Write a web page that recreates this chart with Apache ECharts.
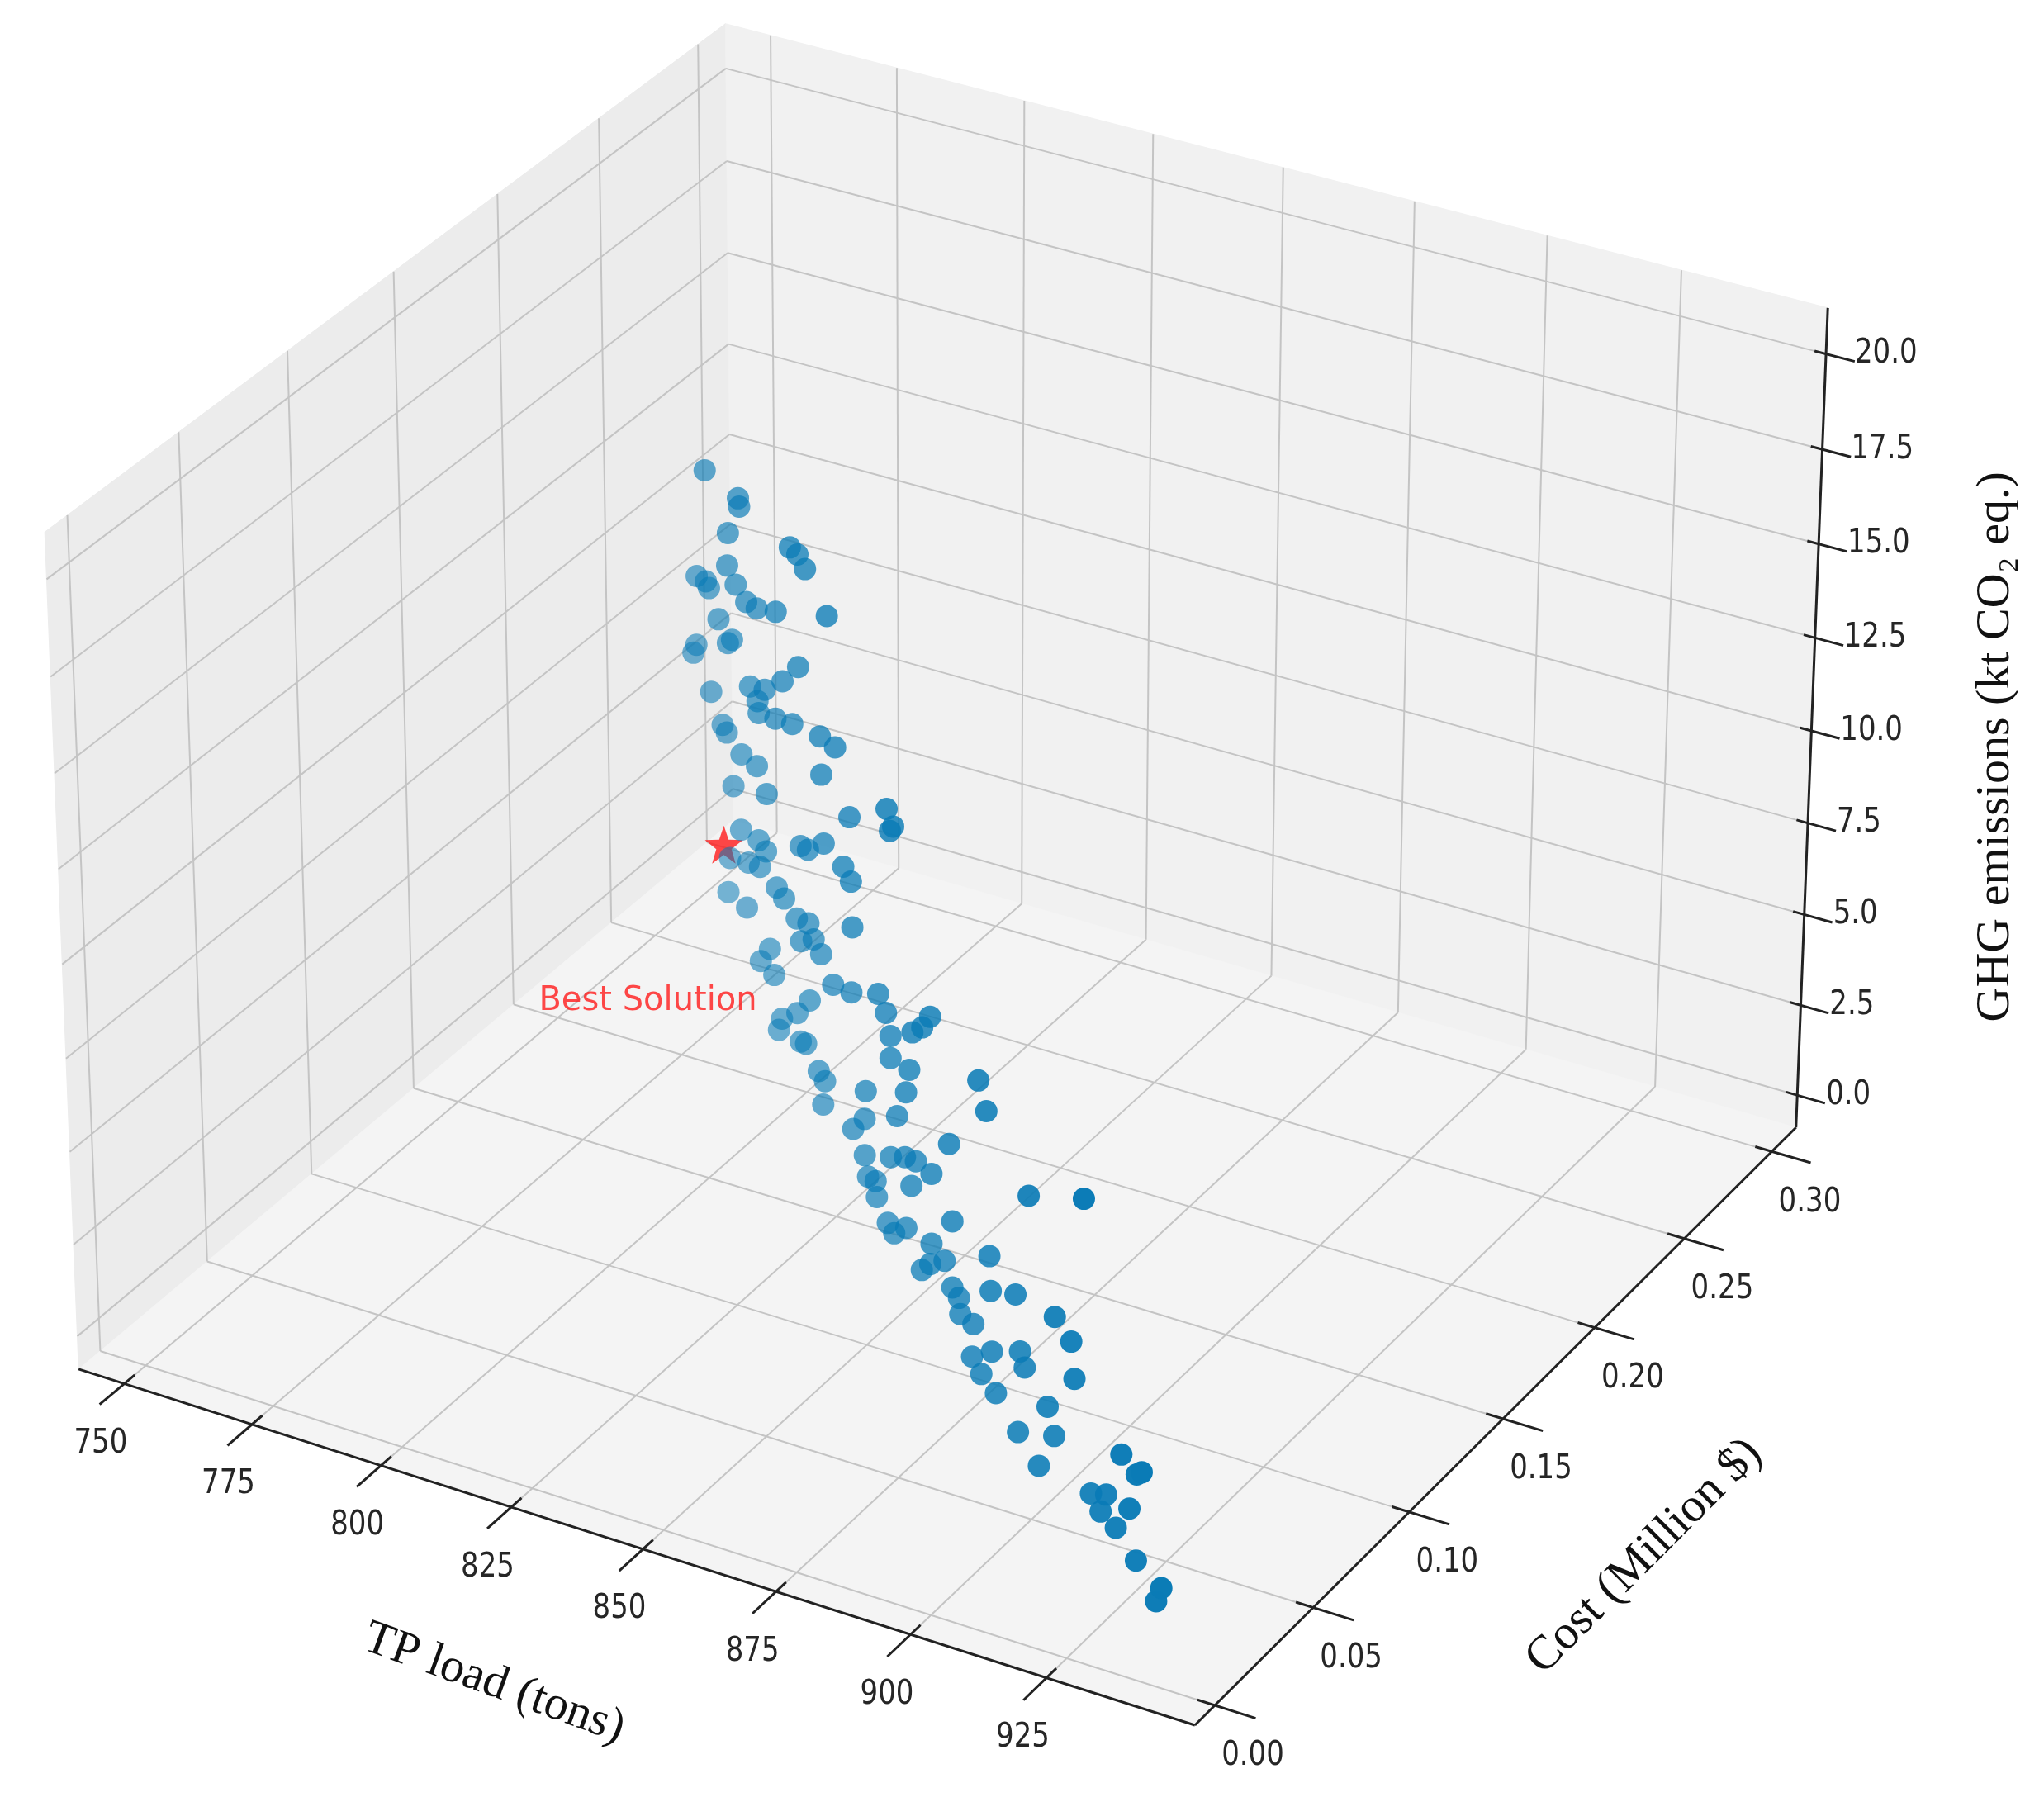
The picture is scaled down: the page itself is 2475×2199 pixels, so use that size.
<!DOCTYPE html>
<html><head><meta charset="utf-8">
<script src="https://cdn.jsdelivr.net/npm/echarts@6/dist/echarts.min.js"></script>
<style>html,body{margin:0;padding:0;background:#fff}#c{width:2475px;height:2199px}</style>
</head><body><div id="c"></div>
<script>
const tpLoad=[773,785,786,781,804,807,810,770,773,774,780,784,788,792,800,818,769,768,780,782,777,807,802,775,789,792,795,799,805,778,780,793,815,821,786,791,816,782,796,840,842,841,826,785,780,792,795,808,811,816,788,793,824,827,780,788,799,802,806,811,808,812,828,796,793,798,815,820,827,836,810,806,801,800,810,807,839,841,849,852,855,814,816,816,841,848,847,832,831,843,872,875,828,831,841,846,850,862,832,835,836,848,856,840,842,847,863,856,860,855,853,876,863,865,866,870,877,885,890,909,899,905,906,872,878,887,889,876,881,897,890,899,898,922,929,927,911,916,915,925,920,927,936,934];
const costM=[.220,.206,.204,.211,.183,.179,.175,.223,.220,.219,.213,.207,.202,.197,.186,.165,.225,.226,.213,.210,.216,.179,.184,.217,.201,.197,.193,.188,.181,.215,.212,.195,.169,.161,.204,.199,.167,.210,.191,.137,.135,.136,.155,.206,.213,.197,.193,.177,.173,.168,.202,.195,.157,.153,.212,.201,.188,.184,.180,.173,.177,.173,.151,.192,.195,.189,.169,.162,.153,.143,.176,.180,.185,.186,.174,.179,.139,.136,.126,.123,.119,.170,.168,.167,.136,.127,.128,.147,.149,.134,.098,.094,.151,.149,.136,.130,.125,.110,.148,.144,.142,.128,.117,.137,.135,.128,.109,.117,.113,.119,.120,.093,.109,.107,.105,.101,.091,.082,.075,.051,.064,.056,.055,.095,.089,.079,.076,.089,.083,.066,.070,.064,.059,.035,.026,.029,.050,.044,.044,.031,.038,.029,.017,.020];
const ghgKt=[14.2,14.5,14.4,13.2,14.9,15.0,14.9,11.1,11.2,11.1,12.2,12.1,12.0,12.2,12.9,14.4,9.1,8.8,10.1,10.4,10.5,12.0,11.2,8.4,9.8,9.7,10.3,9.9,10.3,7.7,7.7,9.5,10.9,11.2,7.7,7.8,10.0,6.4,7.6,11.4,11.1,10.9,9.8,5.5,4.2,5.9,5.9,7.3,7.5,8.1,4.9,5.3,8.3,8.2,3.3,3.7,5.3,5.3,5.1,5.5,4.7,5.1,7.1,3.3,2.7,2.8,5.0,4.7,5.2,6.0,3.2,2.5,1.9,1.5,2.1,1.8,5.8,5.4,6.3,6.7,7.3,1.7,1.6,1.0,4.8,5.2,4.5,3.0,2.1,3.4,7.3,6.8,1.6,1.1,2.1,2.6,2.9,4.6,0.6,0.8,0.5,2.0,3.2,0.2,0.1,0.8,2.6,1.3,1.2,0.6,0.3,3.0,0.8,0.7,0.4,0.5,2.2,2.9,6.1,8.0,3.8,3.8,2.9,0.0,0.7,1.6,1.4,0.0,0.0,1.2,0.0,0.6,0.0,2.6,2.9,2.6,0.3,0.8,0.3,1.5,0.4,0.3,0.6,0.0];
const bestSolution={tp:778,cost:0.215,ghg:4.4};
const xTicks=[750,775,800,825,850,875,900,925];
const yTicks=[0.00,0.05,0.10,0.15,0.20,0.25,0.30];
const zTicks=[0.0,2.5,5.0,7.5,10.0,12.5,15.0,17.5,20.0];

const W=2475,H=2199,K=2475/1560;
const X0=741,X1=952,Y0=-0.01,Y1=0.314,Z0=-0.9,Z1=21.2;
const el=30*Math.PI/180,az=-60*Math.PI/180,dist=10;
const nV=[Math.cos(el)*Math.cos(az),Math.cos(el)*Math.sin(az),Math.sin(el)];
const Rc=[0.5,0.5,0.375];
const E=[Rc[0]+dist*nV[0],Rc[1]+dist*nV[1],Rc[2]+dist*nV[2]];
function cross(a,b){return [a[1]*b[2]-a[2]*b[1],a[2]*b[0]-a[0]*b[2],a[0]*b[1]-a[1]*b[0]];}
function norm(a){const l=Math.hypot(a[0],a[1],a[2]);return [a[0]/l,a[1]/l,a[2]/l];}
const uV=norm(cross([0,0,1],nV)),vV=cross(nV,uV);
function raw(x,y,z){
  const p=[(x-X0)/(X1-X0),(y-Y0)/(Y1-Y0),0.75*(z-Z0)/(Z1-Z0)];
  const d=[p[0]-E[0],p[1]-E[1],p[2]-E[2]];
  const zv=d[0]*nV[0]+d[1]*nV[1]+d[2]*nV[2];
  return [(d[0]*uV[0]+d[1]*uV[1]+d[2]*uV[2])/(-zv),(d[0]*vV[0]+d[1]*vV[1]+d[2]*vV[2])/(-zv),-zv];
}
const pA=raw(X0,Y0,Z0),pB=raw(X1,Y1,Z1);
const TA=[60*K,1045*K],TB=[1395*K,235*K];
const kx=(TB[0]-TA[0])/(pB[0]-pA[0]),ky=(TA[1]-TB[1])/(pB[1]-pA[1]);
const ox=TA[0]-pA[0]*kx,oy=TA[1]+pA[1]*ky;
function P(x,y,z){const r=raw(x,y,z);return [ox+r[0]*kx,oy-r[1]*ky,r[2]];}

let pts=tpLoad.map((t,i)=>P(t,costM[i],ghgKt[i]));
const dmin=Math.min(...pts.map(p=>p[2])),dmax=Math.max(...pts.map(p=>p[2]));
pts=pts.map(p=>({value:[p[0],p[1]],d:p[2],itemStyle:{opacity:1-0.45*(p[2]-dmin)/(dmax-dmin)}}));
pts.sort((a,b)=>b.d-a.d);
const bs=P(bestSolution.tp,bestSolution.cost,bestSolution.ghg);

function boxRender(params,api){
  const c=(p)=>api.coord([p[0],p[1]]);
  const ch=[];
  const poly=(ps,fill)=>ch.push({type:'polygon',shape:{points:ps.map(c)},style:{fill:fill,stroke:fill,lineWidth:1}});
  const line=(a,b,col,w)=>ch.push({type:'line',shape:{x1:c(a)[0],y1:c(a)[1],x2:c(b)[0],y2:c(b)[1]},style:{stroke:col,lineWidth:w}});
  const txt=(p,s,dx,dy,align)=>{const q=c(p);ch.push({type:'text',x:q[0]+dx,y:q[1]+dy,scaleY:1.2,style:{text:s,fill:'#262626',font:'34px "DejaVu Sans"',align:align||'center',verticalAlign:'middle'}});};
  poly([P(X0,Y0,Z0),P(X0,Y1,Z0),P(X0,Y1,Z1),P(X0,Y0,Z1)],'#ececec');
  poly([P(X0,Y1,Z0),P(X1,Y1,Z0),P(X1,Y1,Z1),P(X0,Y1,Z1)],'#f1f1f1');
  poly([P(X0,Y0,Z0),P(X1,Y0,Z0),P(X1,Y1,Z0),P(X0,Y1,Z0)],'#f4f4f4');
  const g='#c4c4c4',gw=2;
  xTicks.forEach(x=>{line(P(x,Y0,Z0),P(x,Y1,Z0),g,gw);line(P(x,Y1,Z0),P(x,Y1,Z1),g,gw);});
  yTicks.forEach(y=>{line(P(X0,y,Z0),P(X1,y,Z0),g,gw);line(P(X0,y,Z0),P(X0,y,Z1),g,gw);});
  zTicks.forEach(z=>{line(P(X0,Y0,z),P(X0,Y1,z),g,gw);line(P(X0,Y1,z),P(X1,Y1,z),g,gw);});
  const ax='#222',aw=3;
  line(P(X0,Y0,Z0),P(X1,Y0,Z0),ax,aw);
  line(P(X1,Y0,Z0),P(X1,Y1,Z0),ax,aw);
  line(P(X1,Y1,Z0),P(X1,Y1,Z1),ax,aw);
  const yr=Y1-Y0,xr=X1-X0;
  xTicks.forEach(x=>{line(P(x,Y0+0.015*yr,Z0),P(x,Y0-0.035*yr,Z0),ax,aw);txt(P(x,Y0,Z0),String(x),-18*K,46*K);});
  yTicks.forEach(y=>{line(P(X1-0.015*xr,y,Z0),P(X1+0.035*xr,y,Z0),ax,aw);txt(P(X1,y,Z0),y.toFixed(2),29*K,39*K);});
  zTicks.forEach(z=>{line(P(X1-0.01*xr,Y1,z),P(X1+0.025*xr,Y1,z),ax,aw);txt(P(X1,Y1,z),z.toFixed(1),22*K,0,'left');});
  return {type:'group',children:ch};
}

const chart=echarts.init(document.getElementById('c'));
chart.setOption({
  animation:false,
  backgroundColor:'#fff',
  grid:{left:0,right:0,top:0,bottom:0},
  xAxis:{type:'value',min:0,max:W,show:false},
  yAxis:{type:'value',min:0,max:H,inverse:true,show:false},
  series:[
    {type:'custom',renderItem:boxRender,data:[[0,0]],silent:true,z:1},
    {type:'scatter',data:[{value:[bs[0],bs[1]]}],symbol:'path://M0,-10L2.35,-3.24L9.51,-3.09L3.8,1.24L5.88,8.09L0,4L-5.88,8.09L-3.8,1.24L-9.51,-3.09L-2.35,-3.24Z',symbolSize:46,
     itemStyle:{color:'#ff1a1a'},z:2,
     label:{show:true,formatter:'Best Solution',position:'inside',offset:[-92,190],color:'#ff1a1a',fontSize:40,fontFamily:'DejaVu Sans'}},
    {type:'scatter',data:pts,symbolSize:27,itemStyle:{color:'#0a7bb6'},z:3}
  ],
  graphic:[
    {type:'text',x:377*K,y:1285*K,rotation:-20*Math.PI/180,style:{text:'TP load (tons)',font:'58px "Liberation Serif"',fill:'#111',align:'center',verticalAlign:'middle'}},
    {type:'text',x:1255*K,y:1188*K,rotation:45*Math.PI/180,style:{text:'Cost (Million $)',font:'58px "Liberation Serif"',fill:'#111',align:'center',verticalAlign:'middle'}},
    {type:'text',x:1523*K,y:570*K,rotation:Math.PI/2,style:{text:'GHG emissions (kt CO₂ eq.)',font:'58px "Liberation Serif"',fill:'#111',align:'center',verticalAlign:'middle'}}
  ]
});
</script></body></html>
